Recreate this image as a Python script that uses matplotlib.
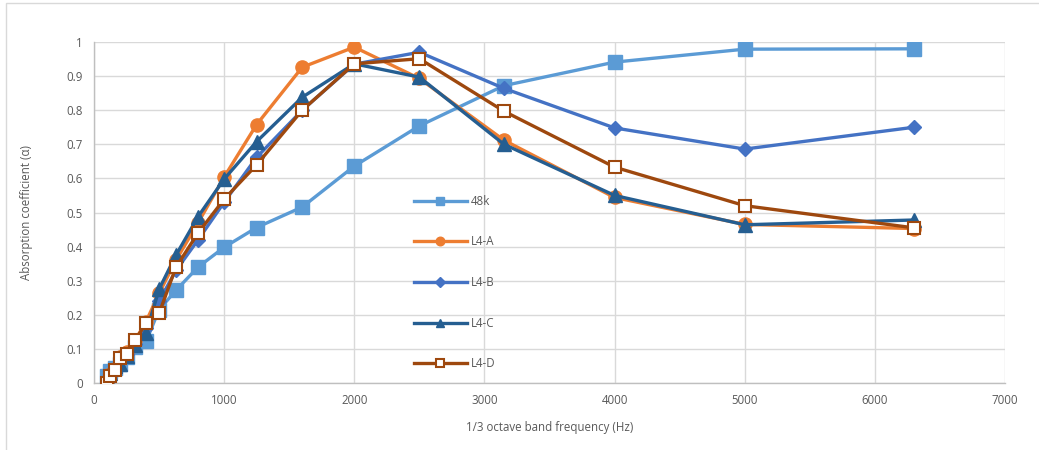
import matplotlib.pyplot as plt
from matplotlib.patches import Rectangle

# 1/3 octave band centre frequencies (Hz)
freqs = [100, 125, 160, 200, 250, 315, 400, 500, 630, 800, 1000,
         1250, 1600, 2000, 2500, 3150, 4000, 5000, 6300]

alpha_48k = [0.02, 0.035, 0.045, 0.055, 0.075, 0.105, 0.122, 0.215, 0.272, 0.34, 0.398,
             0.456, 0.516, 0.636, 0.754, 0.872, 0.941, 0.979, 0.98]
alpha_l4a = [0.005, 0.025, 0.04, 0.075, 0.09, 0.125, 0.18, 0.263, 0.36, 0.47, 0.604,
             0.758, 0.926, 0.985, 0.893, 0.712, 0.544, 0.465, 0.453]
alpha_l4b = [0.01, 0.03, 0.045, 0.07, 0.085, 0.115, 0.16, 0.24, 0.33, 0.42, 0.53,
             0.662, 0.80, 0.935, 0.97, 0.864, 0.748, 0.686, 0.75]
alpha_l4c = [0.015, 0.03, 0.05, 0.055, 0.08, 0.11, 0.146, 0.275, 0.375, 0.488, 0.598,
             0.708, 0.838, 0.936, 0.897, 0.70, 0.55, 0.464, 0.478]
alpha_l4d = [0.0, 0.02, 0.039, 0.073, 0.086, 0.125, 0.175, 0.204, 0.34, 0.44, 0.539,
             0.64, 0.80, 0.936, 0.951, 0.797, 0.633, 0.52, 0.455]

plt.rcParams['font.family'] = ['Open Sans', 'DejaVu Sans']
fs = 8.3

fig = plt.figure(figsize=(10.39, 4.5), dpi=100)
ax = fig.add_axes([94 / 1039, 67 / 450, 911 / 1039, 341 / 450])

# light chart border like the Excel chart area
fig.patches.append(Rectangle((6 / 1039, -0.1), 1.2, 1.1 - 3 / 450,
                             transform=fig.transFigure, fill=False,
                             edgecolor='#D9D9D9', linewidth=1.0))

lw = 2.4
ax.plot(freqs, alpha_48k, color='#5B9BD5', lw=lw, marker='s', markersize=9.5,
        label='48k', zorder=3)
ax.plot(freqs, alpha_l4a, color='#ED7D31', lw=lw, marker='o', markersize=9.5,
        label='L4-A', zorder=4)
ax.plot(freqs, alpha_l4b, color='#4472C4', lw=lw, marker='D', markersize=7.5,
        label='L4-B', zorder=5)
ax.plot(freqs, alpha_l4c, color='#255E91', lw=lw, marker='^', markersize=9.5,
        label='L4-C', zorder=6)
ax.plot(freqs, alpha_l4d, color='#9E480E', lw=lw, marker='s', markersize=8.5,
        markerfacecolor='white', markeredgecolor='#9E480E', markeredgewidth=1.5,
        label='L4-D', zorder=7)

ax.set_xlim(0, 7000)
ax.set_ylim(0, 1)
ax.set_xticks(range(0, 7001, 1000))
ax.set_yticks([i / 10 for i in range(11)])
ax.set_yticklabels(['0'] + [f'{i / 10:g}' for i in range(1, 11)])
ax.grid(True, color='#D9D9D9', linewidth=1.0, zorder=0)
ax.set_axisbelow(True)
for side in ['top', 'right']:
    ax.spines[side].set_visible(False)
for side in ['left', 'bottom']:
    ax.spines[side].set_color('#BFBFBF')
    ax.spines[side].set_linewidth(1.0)
ax.tick_params(length=0, labelsize=fs, labelcolor='#595959', pad=8)

ax.set_xlabel('1/3 octave band frequency (Hz)', fontsize=fs, color='#595959', labelpad=10)
ax.set_ylabel('Absorption coefficient (α)', fontsize=fs, color='#595959', labelpad=24)

ax.legend(loc='upper left', bbox_to_anchor=(408 / 1039, (450 - 189) / 450),
          bbox_transform=fig.transFigure, frameon=False, fontsize=fs,
          labelcolor='#595959', handlelength=4.6, handletextpad=0.35,
          labelspacing=2.4, borderpad=0, markerscale=0.65)

plt.savefig('out.png', dpi=100)
plt.close()
